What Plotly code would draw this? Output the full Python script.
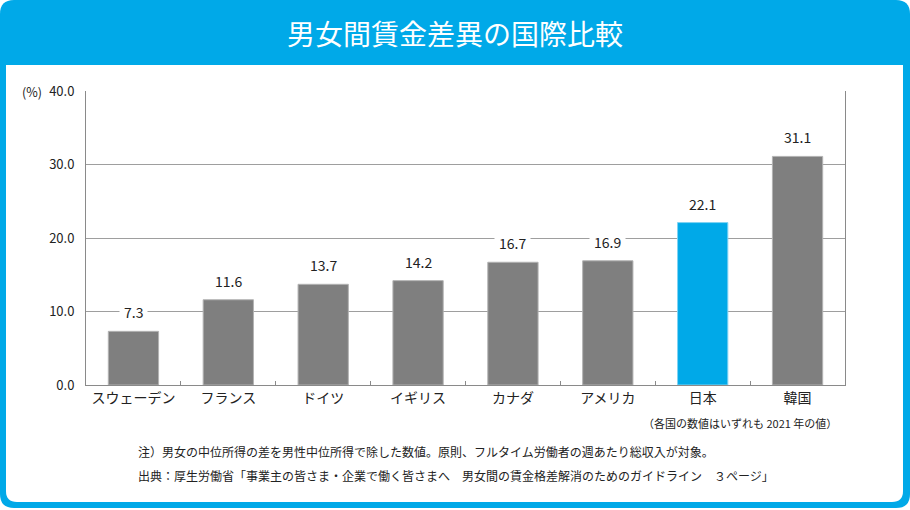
import plotly.graph_objects as go

categories = ["スウェーデン", "フランス", "ドイツ", "イギリス", "カナダ", "アメリカ", "日本", "韓国"]
values = [7.3, 11.6, 13.7, 14.2, 16.7, 16.9, 22.1, 31.1]
highlight = "日本"
y_ticks = [0, 10, 20, 30, 40]

title_text = "男女間賃金差異の国際比較"
unit_text = "(%)"
year_note = "（各国の数値はいずれも 2021 年の値）"
note_text = "注）男女の中位所得の差を男性中位所得で除した数値。原則、フルタイム労働者の週あたり総収入が対象。"
source_text = "出典：厚生労働省「事業主の皆さま・企業で働く皆さまへ　男女間の賃金格差解消のためのガイドライン　３ページ」"

BLUE = "#00a9e8"
GRAY = "#7f7f7f"
FONT = "Noto Sans CJK JP"

W, H = 910, 510
L, R, T, B = 86, 845, 91, 385


def px(x):
    return (x - L) / (R - L)


def py(y):
    return (B - y) / (B - T)


def rrect(x0, y0, x1, y1, tl, tr, br, bl):
    def P(x, y):
        return f"{px(x):.6f},{py(y):.6f}"
    s = f"M {P(x0 + tl, y0)} L {P(x1 - tr, y0)} "
    if tr:
        s += f"Q {P(x1, y0)} {P(x1, y0 + tr)} "
    s += f"L {P(x1, y1 - br)} "
    if br:
        s += f"Q {P(x1, y1)} {P(x1 - br, y1)} "
    s += f"L {P(x0 + bl, y1)} "
    if bl:
        s += f"Q {P(x0, y1)} {P(x0, y1 - bl)} "
    s += f"L {P(x0, y0 + tl)} "
    if tl:
        s += f"Q {P(x0, y0)} {P(x0 + tl, y0)} "
    s += "Z"
    return s


colors = [BLUE if c == highlight else GRAY for c in categories]
line_colors = ["#7fd3f3" if c == highlight else "#b3b3b3" for c in categories]

fig = go.Figure()
fig.add_trace(go.Bar(
    x=categories, y=values,
    marker=dict(color=colors, line=dict(color=line_colors, width=1)),
    width=0.53,
    hoverinfo="skip",
))

annotations = []
for c, v in zip(categories, values):
    annotations.append(dict(
        x=c, y=v, xref="x", yref="y", text=f"{v:.1f}", showarrow=False,
        yanchor="middle", yshift=19, bgcolor="white", borderpad=4,
        font=dict(family=FONT, size=14, color="#222"),
    ))

annotations += [
    dict(x=px(455), y=py(33), xref="paper", yref="paper", text=title_text,
         showarrow=False, xanchor="center", yanchor="middle",
         font=dict(family=FONT, size=28, color="white")),
    dict(x=px(44), y=py(91), xref="paper", yref="paper", text=unit_text,
         showarrow=False, xanchor="right", yanchor="middle",
         font=dict(family=FONT, size=12.5, color="#222")),
    dict(x=px(839), y=py(423), xref="paper", yref="paper", text=year_note,
         showarrow=False, xanchor="right", yanchor="middle",
         font=dict(family=FONT, size=11, color="#222")),
    dict(x=px(136), y=py(451), xref="paper", yref="paper", text=note_text,
         showarrow=False, xanchor="left", yanchor="middle",
         font=dict(family=FONT, size=12, color="#222")),
    dict(x=px(136), y=py(475), xref="paper", yref="paper", text=source_text,
         showarrow=False, xanchor="left", yanchor="middle",
         font=dict(family=FONT, size=12, color="#222")),
]

shapes = [
    dict(type="path", xref="paper", yref="paper", layer="below",
         path=rrect(0, 0, 910, 508, 14, 14, 14, 14),
         fillcolor=BLUE, line=dict(width=0)),
    dict(type="path", xref="paper", yref="paper", layer="below",
         path=rrect(6, 65, 903, 502, 0, 0, 11, 11),
         fillcolor="white", line=dict(width=0)),
]

fig.update_layout(
    width=W, height=H,
    margin=dict(l=L, r=W - R, t=T, b=H - B, pad=0),
    paper_bgcolor="white", plot_bgcolor="rgba(0,0,0,0)",
    showlegend=False,
    font=dict(family=FONT, color="#222"),
    annotations=annotations,
    shapes=shapes,
    xaxis=dict(
        showline=True, linecolor="#8a8a8a", linewidth=1,
        ticks="inside", tickson="boundaries", ticklen=4, tickcolor="#8a8a8a",
        showgrid=False, tickfont=dict(family=FONT, size=14, color="#222"),
        fixedrange=True,
    ),
    yaxis=dict(
        range=[0, 40], tickvals=y_ticks, tickformat=".1f",
        showline=True, mirror=True, linecolor="#8a8a8a", linewidth=1,
        showgrid=True, gridcolor="#9e9e9e", gridwidth=1, zeroline=False,
        ticks="", ticklabelstandoff=8,
        tickfont=dict(family=FONT, size=13, color="#222"),
        fixedrange=True,
    ),
)

fig.write_html(
    "out.html",
    config={"displayModeBar": False},
    post_script="document.body.style.margin='0px';document.body.style.overflow='hidden';",
)
